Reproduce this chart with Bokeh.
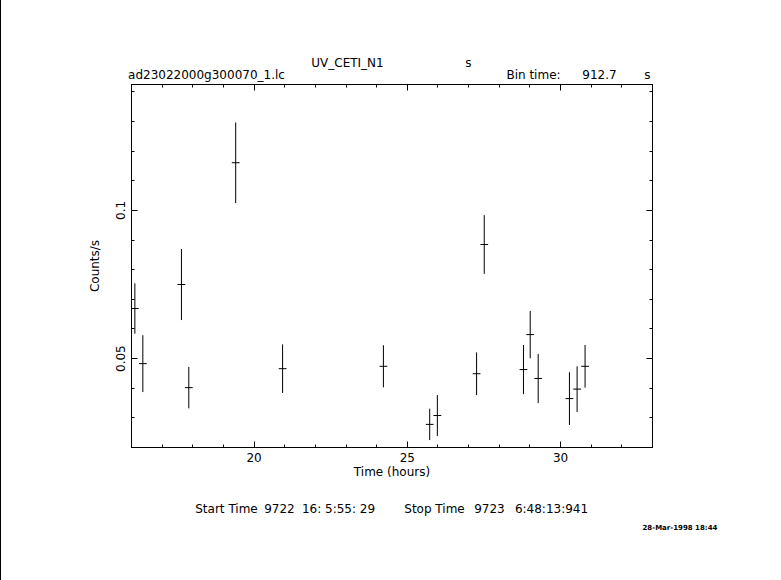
from bokeh.plotting import figure
from bokeh.models import LinearAxis, FixedTicker, Range1d, ColumnDataSource, Title
from bokeh.embed import file_html
from bokeh.resources import INLINE

# ---- data ----
time_hr = [16.11, 16.37, 17.63, 17.87, 19.40, 20.93, 24.22, 25.73, 25.98,
           27.26, 27.51, 28.79, 29.01, 29.27, 30.29, 30.54, 30.80]
rate = [0.0669, 0.0483, 0.0750, 0.0402, 0.1161, 0.0466, 0.0474, 0.0278, 0.0308,
        0.0449, 0.0885, 0.0463, 0.0581, 0.0433, 0.0365, 0.0397, 0.0474]
rate_err = [0.0085, 0.0096, 0.0120, 0.0070, 0.0136, 0.0082, 0.0071, 0.0053, 0.0069,
            0.0072, 0.0099, 0.0083, 0.0080, 0.0083, 0.0089, 0.0077, 0.0072]
bin_time_s = 912.7
x_major = [20, 25, 30]
x_minor = list(range(16, 34))
y_major = [0.05, 0.1]
y_minor = [round(0.01 * i, 2) for i in range(2, 15)]
y_tick_labels = {0.05: "0.05", 0.1: "0.1"}

# header / footer texts and the page x (px) of their centres
title_row = [("UV_CETI_N1", 347), ("s", 468)]
info_row = [("ad23022000g300070_1.lc", 206), ("Bin time:", 533),
            ("%.1f" % bin_time_s, 599), ("s", 647)]
time_row = [("Start Time", 226), ("9722", 279), ("16: 5:55: 29", 338),
            ("Stop Time", 434), ("9723", 489), ("6:48:13:941", 551)]
date_text = "28-Mar-1998 18:44"

X0, X1 = 16, 33
Y0, Y1 = 0.02, 0.1425

W, H = 780, 580
BL, BR, BT, BB = 130, 129, 84, 133
FW, FH = W - BL - BR, H - BT - BB
FRAME_LEFT_PX = BL + 1  # 1px page border on the left

half_bin = bin_time_s / 3600.0 / 2.0
src = ColumnDataSource(dict(
    t=time_hr,
    r=rate,
    lo=[r - e for r, e in zip(rate, rate_err)],
    hi=[r + e for r, e in zip(rate, rate_err)],
    tl=[t - half_bin for t in time_hr],
    tr=[t + half_bin for t in time_hr],
))

p = figure(width=W, height=H, x_range=Range1d(X0, X1), y_range=Range1d(Y0, Y1),
           output_backend="svg", toolbar_location=None,
           min_border_left=BL, min_border_right=BR, min_border_top=BT, min_border_bottom=BB)
p.grid.visible = False
p.outline_line_color = "black"
p.background_fill_color = "white"
p.border_fill_color = "white"
p.styles = {"border-left": "1px solid black"}

FONT = "DejaVu Sans"

def style_axis(ax, ticks, minor, show_labels):
    ax.ticker = FixedTicker(ticks=ticks, minor_ticks=minor)
    ax.major_tick_in = 6
    ax.major_tick_out = 0
    ax.minor_tick_in = 3
    ax.minor_tick_out = 0
    ax.axis_line_color = "black"
    ax.major_tick_line_color = "black"
    ax.minor_tick_line_color = "black"
    ax.major_label_text_font = FONT
    ax.major_label_text_font_size = "12px" if show_labels else "0px"
    ax.major_label_text_color = "black" if show_labels else None
    if not show_labels:
        ax.major_label_standoff = 0
    ax.axis_label_text_font = FONT
    ax.axis_label_text_font_size = "12px"
    ax.axis_label_text_font_style = "normal"
    ax.axis_label_text_color = "black"

xa = p.xaxis[0]
style_axis(xa, x_major, x_minor, True)
xa.axis_label = "Time (hours)"
xa.major_label_standoff = 5
xa.axis_label_standoff = 0

ya = p.yaxis[0]
style_axis(ya, y_major, y_minor, True)
ya.major_label_overrides = y_tick_labels
ya.major_label_orientation = "vertical"
ya.major_label_standoff = 6
ya.axis_label = "Counts/s"
ya.axis_label_standoff = 12

top = LinearAxis()
style_axis(top, x_major, x_minor, False)
p.add_layout(top, "above")
right = LinearAxis()
style_axis(right, y_major, y_minor, False)
p.add_layout(right, "right")

p.segment(x0="t", y0="lo", x1="t", y1="hi", source=src, line_color="black", line_width=1)
p.segment(x0="tl", y0="r", x1="tr", y1="r", source=src, line_color="black", line_width=1)

def data_x(px):
    return round(X0 + (px - FRAME_LEFT_PX) / FW * (X1 - X0), 6)

def text_axis(place, items, size, style, standoff):
    ticks = [data_x(c) for _, c in items]
    ax = LinearAxis(ticker=FixedTicker(ticks=ticks, minor_ticks=[]),
                    major_label_overrides={t: s for t, (s, _) in zip(ticks, items)},
                    axis_line_color=None, major_tick_line_color=None,
                    minor_tick_line_color=None,
                    major_tick_in=0, major_tick_out=0, minor_tick_in=0, minor_tick_out=0,
                    major_label_standoff=standoff,
                    major_label_text_font=FONT, major_label_text_font_size=size,
                    major_label_text_font_style=style, major_label_text_color="black")
    p.add_layout(ax, place)
    return ax

text_axis("above", info_row, "12px", "normal", 3)
text_axis("above", title_row, "12px", "normal", -5)
text_axis("below", time_row, "12px", "normal", 20)

# date stamp sits right of the frame edge: a left-aligned Title shifted by an offset
p.add_layout(Title(text=date_text, align="left", offset=642 - FRAME_LEFT_PX,
                   vertical_align="top", standoff=10,
                   text_font=FONT, text_font_size="7px", text_font_style="bold",
                   text_color="black"), "below")

open("out.html", "w").write(file_html(p, INLINE))
